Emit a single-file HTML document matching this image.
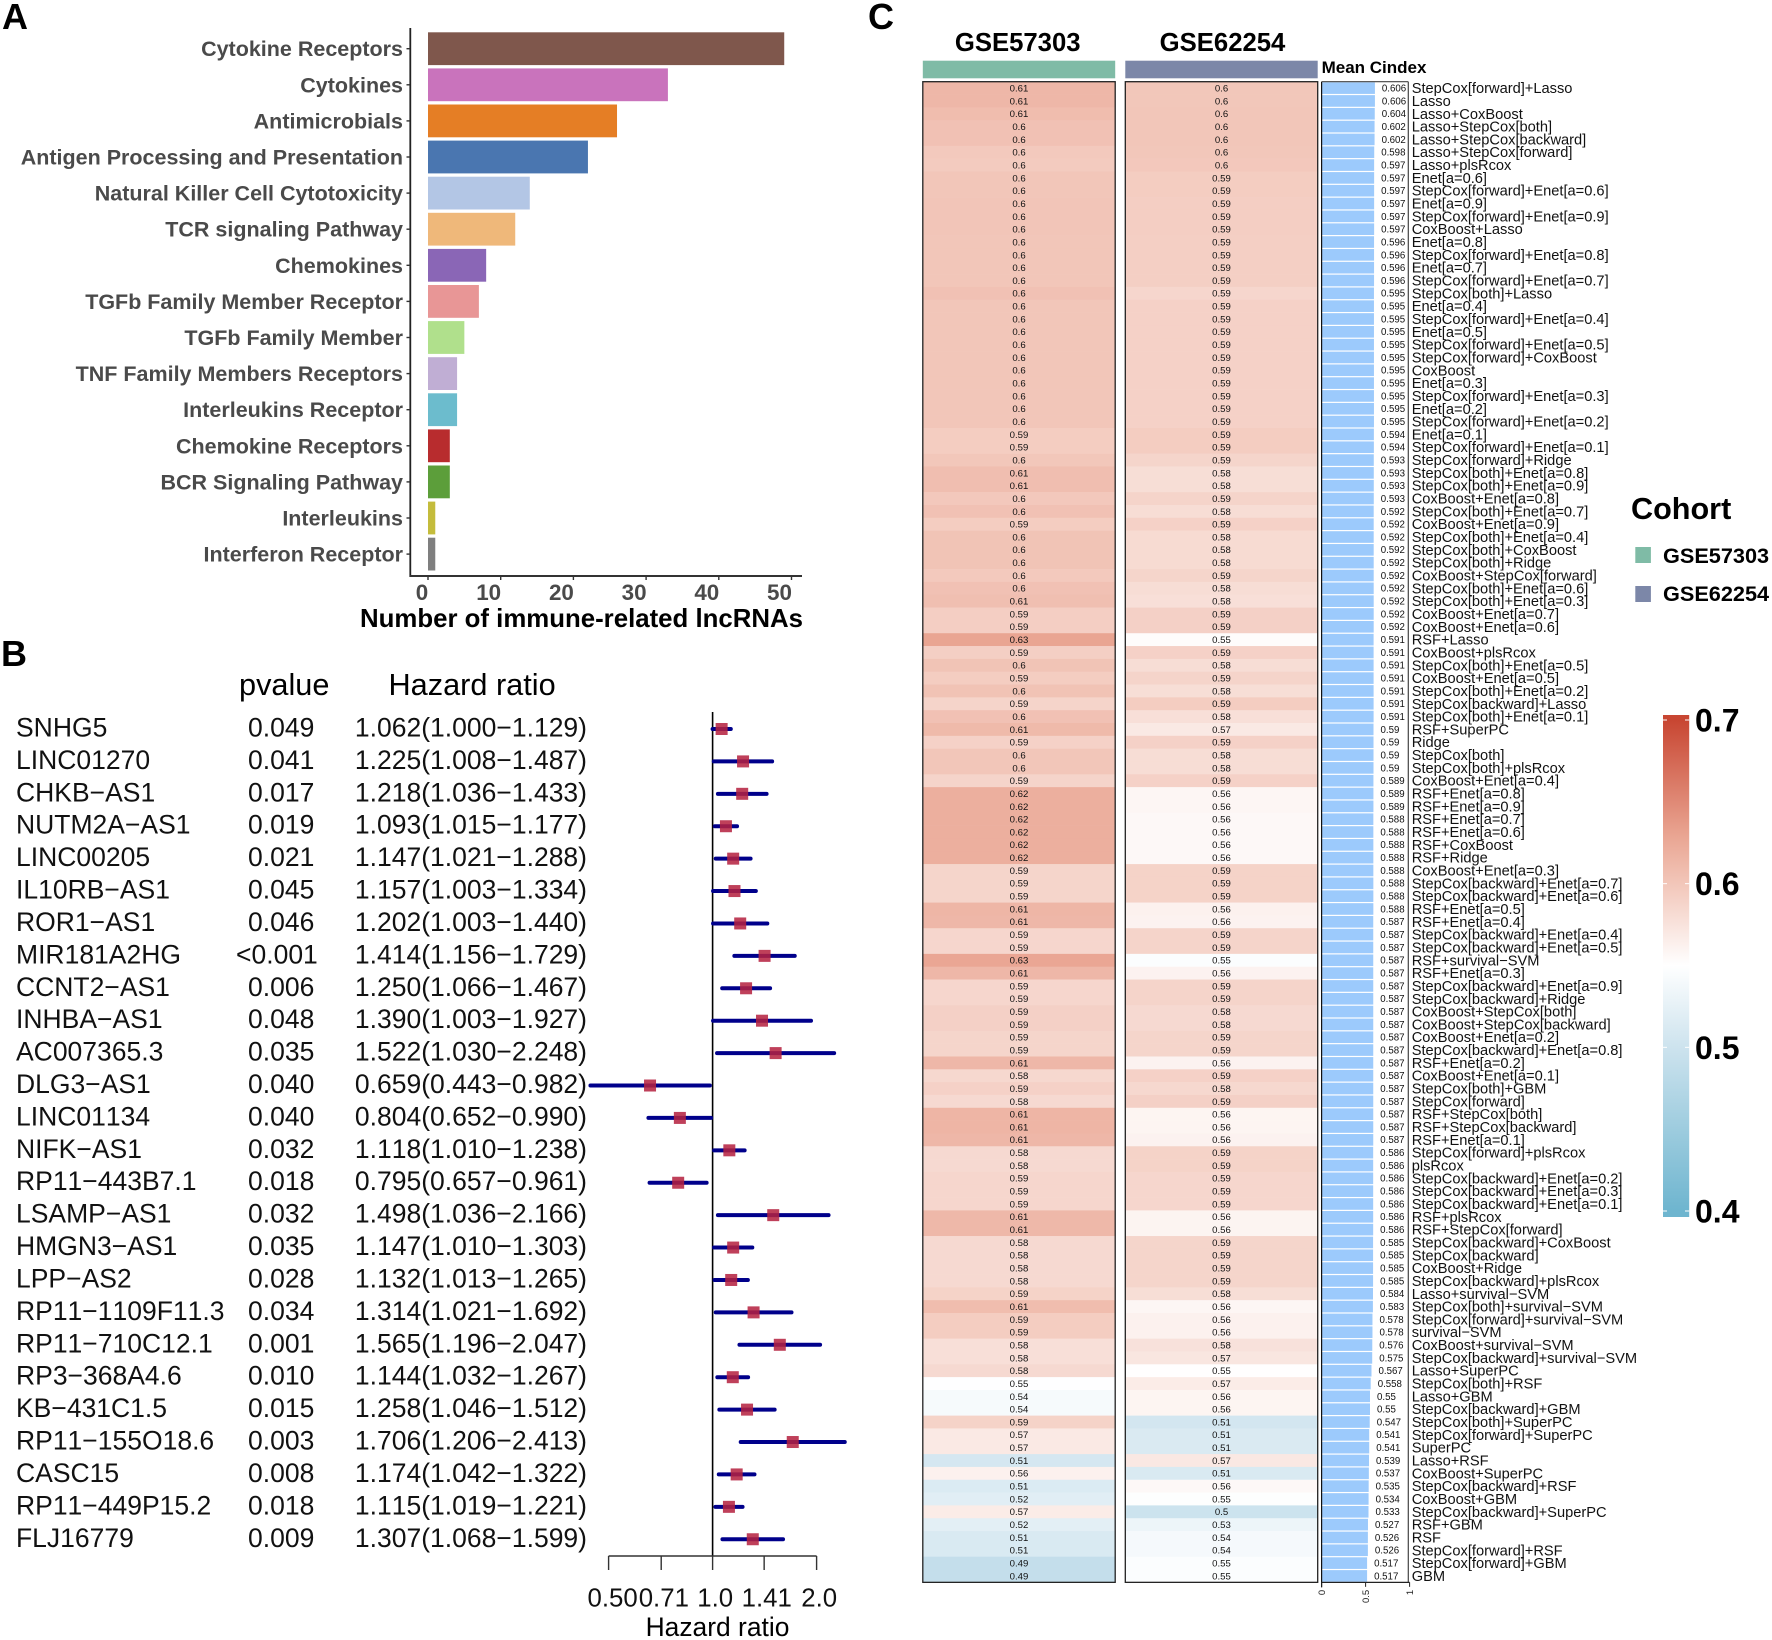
<!DOCTYPE html>
<html lang="en">
<head>
<meta charset="utf-8">
<title>Immune-related lncRNAs figure</title>
<style>
html,body{margin:0;padding:0;background:#fff;width:1772px;height:1640px;overflow:hidden}
svg{display:block;font-family:"Liberation Sans",Arial,sans-serif}
#panelB text{font-kerning:none}
</style>
</head>
<body>
<svg id="figure" xmlns="http://www.w3.org/2000/svg" width="1772" height="1640" viewBox="0 0 1772 1640">
  <rect x="0" y="0" width="1772" height="1640" fill="#fff"/>
  <text x="2" y="29" font-size="36" font-weight="700">A</text>
  <text x="1" y="666" font-size="36" font-weight="700">B</text>
  <text x="868" y="29" font-size="36" font-weight="700">C</text>

  <g id="panelA">
    <line x1="410.3" y1="28" x2="410.3" y2="577" stroke="#222" stroke-width="1.8"/>
    <line x1="410" y1="576" x2="802" y2="576" stroke="#333" stroke-width="2"/>
    <text x="581.5" y="627" text-anchor="middle" font-size="25.8" font-weight="700">Number of immune-related lncRNAs</text>
  </g>

  <g id="panelB">
    <text x="239" y="695" font-size="30.7">pvalue</text>
    <text x="388.5" y="695" font-size="30.7">Hazard ratio</text>
    <text x="717.5" y="1636" text-anchor="middle" font-size="26.4">Hazard ratio</text>
  </g>

  <g id="panelC">
    <text x="1017.7" y="51" text-anchor="middle" font-size="25.7" font-weight="700">GSE57303</text>
    <text x="1222.5" y="51" text-anchor="middle" font-size="25.7" font-weight="700">GSE62254</text>
    <rect x="922.8" y="60.7" width="192.4" height="17.6" fill="#7fbba6"/>
    <rect x="1125.3" y="60.7" width="192.4" height="17.6" fill="#7c87a8"/>
    <text x="1321.6" y="73" font-size="17" font-weight="700">Mean Cindex</text>
  </g>

  <g id="cohortLegend">
    <text x="1631" y="519" font-size="30.6" font-weight="700">Cohort</text>
    <rect x="1635.3" y="547" width="15.6" height="16" fill="#7fbba6"/>
    <text x="1663" y="563" font-size="21.7" font-weight="700">GSE57303</text>
    <rect x="1635.3" y="586" width="15.6" height="16" fill="#7c87a8"/>
    <text x="1663" y="601" font-size="21.7" font-weight="700">GSE62254</text>
  </g>

  <g id="colorLegend">
    <defs>
      <linearGradient id="cindexGradient" gradientUnits="userSpaceOnUse" x1="0" x2="0" y1="720" y2="1211"></linearGradient>
    </defs>
    <rect x="1663" y="715" width="26.2" height="502" fill="url(#cindexGradient)"/>
  </g>
</svg>

<script>
/* ---------- Panel A data ---------- */
const categories = ["Cytokine Receptors","Cytokines","Antimicrobials","Antigen Processing and Presentation","Natural Killer Cell Cytotoxicity","TCR signaling Pathway","Chemokines","TGFb Family Member Receptor","TGFb Family Member","TNF Family Members Receptors","Interleukins Receptor","Chemokine Receptors","BCR Signaling Pathway","Interleukins","Interferon Receptor"];
const lncCounts = [49,33,26,22,14,12,8,7,5,4,4,3,3,1,1];
const categoryColors = ["#7f574c","#c973bc","#e57e25","#4a76b0","#b3c6e5","#efb87a","#8a66b6","#e89696","#b0e08c","#c0aed4","#6cbccd","#b82c2e","#5c9e3a","#c4bc3c","#7f7f7f"];
const countTicks = [0,10,20,30,40,50];

/* ---------- Panel B data ---------- */
const genes = ["SNHG5","LINC01270","CHKB\u2212AS1","NUTM2A\u2212AS1","LINC00205","IL10RB\u2212AS1","ROR1\u2212AS1","MIR181A2HG","CCNT2\u2212AS1","INHBA\u2212AS1","AC007365.3","DLG3\u2212AS1","LINC01134","NIFK\u2212AS1","RP11\u2212443B7.1","LSAMP\u2212AS1","HMGN3\u2212AS1","LPP\u2212AS2","RP11\u22121109F11.3","RP11\u2212710C12.1","RP3\u2212368A4.6","KB\u2212431C1.5","RP11\u2212155O18.6","CASC15","RP11\u2212449P15.2","FLJ16779"];
const pvalues = ["0.049","0.041","0.017","0.019","0.021","0.045","0.046","<0.001","0.006","0.048","0.035","0.040","0.040","0.032","0.018","0.032","0.035","0.028","0.034","0.001","0.010","0.015","0.003","0.008","0.018","0.009"];
const hazardRatio = [1.062,1.225,1.218,1.093,1.147,1.157,1.202,1.414,1.250,1.390,1.522,0.659,0.804,1.118,0.795,1.498,1.147,1.132,1.314,1.565,1.144,1.258,1.706,1.174,1.115,1.307];
const hazardLow = [1.000,1.008,1.036,1.015,1.021,1.003,1.003,1.156,1.066,1.003,1.030,0.443,0.652,1.010,0.657,1.036,1.010,1.013,1.021,1.196,1.032,1.046,1.206,1.042,1.019,1.068];
const hazardHigh = [1.129,1.487,1.433,1.177,1.288,1.334,1.440,1.729,1.467,1.927,2.248,0.982,0.990,1.238,0.961,2.166,1.303,1.265,1.692,2.047,1.267,1.512,2.413,1.322,1.221,1.599];
const hazardTicks = [0.5,0.71,1,1.41,2];
const hazardTickLabels = ["0.50","0.71","1.0","1.41","2.0"];

/* ---------- Panel C data ---------- */
const models = ["StepCox[forward]+Lasso","Lasso","Lasso+CoxBoost","Lasso+StepCox[both]","Lasso+StepCox[backward]","Lasso+StepCox[forward]","Lasso+plsRcox","Enet[a=0.6]","StepCox[forward]+Enet[a=0.6]","Enet[a=0.9]",
"StepCox[forward]+Enet[a=0.9]","CoxBoost+Lasso","Enet[a=0.8]","StepCox[forward]+Enet[a=0.8]","Enet[a=0.7]","StepCox[forward]+Enet[a=0.7]","StepCox[both]+Lasso","Enet[a=0.4]","StepCox[forward]+Enet[a=0.4]","Enet[a=0.5]",
"StepCox[forward]+Enet[a=0.5]","StepCox[forward]+CoxBoost","CoxBoost","Enet[a=0.3]","StepCox[forward]+Enet[a=0.3]","Enet[a=0.2]","StepCox[forward]+Enet[a=0.2]","Enet[a=0.1]","StepCox[forward]+Enet[a=0.1]","StepCox[forward]+Ridge",
"StepCox[both]+Enet[a=0.8]","StepCox[both]+Enet[a=0.9]","CoxBoost+Enet[a=0.8]","StepCox[both]+Enet[a=0.7]","CoxBoost+Enet[a=0.9]","StepCox[both]+Enet[a=0.4]","StepCox[both]+CoxBoost","StepCox[both]+Ridge","CoxBoost+StepCox[forward]","StepCox[both]+Enet[a=0.6]",
"StepCox[both]+Enet[a=0.3]","CoxBoost+Enet[a=0.7]","CoxBoost+Enet[a=0.6]","RSF+Lasso","CoxBoost+plsRcox","StepCox[both]+Enet[a=0.5]","CoxBoost+Enet[a=0.5]","StepCox[both]+Enet[a=0.2]","StepCox[backward]+Lasso","StepCox[both]+Enet[a=0.1]",
"RSF+SuperPC","Ridge","StepCox[both]","StepCox[both]+plsRcox","CoxBoost+Enet[a=0.4]","RSF+Enet[a=0.8]","RSF+Enet[a=0.9]","RSF+Enet[a=0.7]","RSF+Enet[a=0.6]","RSF+CoxBoost",
"RSF+Ridge","CoxBoost+Enet[a=0.3]","StepCox[backward]+Enet[a=0.7]","StepCox[backward]+Enet[a=0.6]","RSF+Enet[a=0.5]","RSF+Enet[a=0.4]","StepCox[backward]+Enet[a=0.4]","StepCox[backward]+Enet[a=0.5]","RSF+survival\u2212SVM","RSF+Enet[a=0.3]",
"StepCox[backward]+Enet[a=0.9]","StepCox[backward]+Ridge","CoxBoost+StepCox[both]","CoxBoost+StepCox[backward]","CoxBoost+Enet[a=0.2]","StepCox[backward]+Enet[a=0.8]","RSF+Enet[a=0.2]","CoxBoost+Enet[a=0.1]","StepCox[both]+GBM","StepCox[forward]",
"RSF+StepCox[both]","RSF+StepCox[backward]","RSF+Enet[a=0.1]","StepCox[forward]+plsRcox","plsRcox","StepCox[backward]+Enet[a=0.2]","StepCox[backward]+Enet[a=0.3]","StepCox[backward]+Enet[a=0.1]","RSF+plsRcox","RSF+StepCox[forward]",
"StepCox[backward]+CoxBoost","StepCox[backward]","CoxBoost+Ridge","StepCox[backward]+plsRcox","Lasso+survival\u2212SVM","StepCox[both]+survival\u2212SVM","StepCox[forward]+survival\u2212SVM","survival\u2212SVM","CoxBoost+survival\u2212SVM","StepCox[backward]+survival\u2212SVM",
"Lasso+SuperPC","StepCox[both]+RSF","Lasso+GBM","StepCox[backward]+GBM","StepCox[both]+SuperPC","StepCox[forward]+SuperPC","SuperPC","Lasso+RSF","CoxBoost+SuperPC","StepCox[backward]+RSF",
"CoxBoost+GBM","StepCox[backward]+SuperPC","RSF+GBM","RSF","StepCox[forward]+RSF","StepCox[forward]+GBM","GBM"];
const meanCindex = [0.606,0.606,0.604,0.602,0.602,0.598,0.597,0.597,0.597,0.597,
0.597,0.597,0.596,0.596,0.596,0.596,0.595,0.595,0.595,0.595,
0.595,0.595,0.595,0.595,0.595,0.595,0.595,0.594,0.594,0.593,
0.593,0.593,0.593,0.592,0.592,0.592,0.592,0.592,0.592,0.592,
0.592,0.592,0.592,0.591,0.591,0.591,0.591,0.591,0.591,0.591,
0.59,0.59,0.59,0.59,0.589,0.589,0.589,0.588,0.588,0.588,
0.588,0.588,0.588,0.588,0.588,0.587,0.587,0.587,0.587,0.587,
0.587,0.587,0.587,0.587,0.587,0.587,0.587,0.587,0.587,0.587,
0.587,0.587,0.587,0.586,0.586,0.586,0.586,0.586,0.586,0.586,
0.585,0.585,0.585,0.585,0.584,0.583,0.578,0.578,0.576,0.575,
0.567,0.558,0.55,0.55,0.547,0.541,0.541,0.539,0.537,0.535,
0.534,0.533,0.527,0.526,0.526,0.517,0.517];
const gse57303 = [0.613,0.613,0.608,0.604,0.604,0.597,0.596,0.600,0.600,0.601,
0.601,0.601,0.600,0.600,0.600,0.600,0.604,0.600,0.600,0.600,
0.600,0.600,0.600,0.600,0.600,0.600,0.600,0.594,0.594,0.599,
0.607,0.607,0.598,0.604,0.594,0.602,0.602,0.602,0.597,0.604,
0.606,0.593,0.593,0.629,0.592,0.602,0.594,0.603,0.588,0.604,
0.611,0.590,0.600,0.600,0.588,0.620,0.620,0.620,0.620,0.620,
0.620,0.587,0.587,0.587,0.614,0.613,0.586,0.586,0.628,0.613,
0.586,0.586,0.591,0.591,0.587,0.587,0.613,0.584,0.590,0.583,
0.615,0.615,0.613,0.583,0.583,0.586,0.586,0.586,0.612,0.612,
0.583,0.583,0.583,0.583,0.589,0.608,0.594,0.594,0.578,0.578,
0.583,0.549,0.541,0.541,0.589,0.569,0.569,0.508,0.562,0.514,
0.520,0.567,0.522,0.512,0.512,0.490,0.490];
const gse62254 = [0.599,0.599,0.600,0.600,0.600,0.599,0.598,0.594,0.594,0.593,
0.593,0.593,0.592,0.592,0.592,0.592,0.586,0.590,0.590,0.590,
0.590,0.590,0.590,0.590,0.590,0.590,0.590,0.594,0.594,0.587,
0.579,0.579,0.588,0.580,0.590,0.582,0.582,0.582,0.587,0.580,
0.578,0.591,0.591,0.553,0.590,0.580,0.588,0.579,0.594,0.578,
0.569,0.590,0.580,0.580,0.590,0.558,0.558,0.556,0.556,0.556,
0.556,0.589,0.589,0.589,0.562,0.561,0.588,0.588,0.546,0.561,
0.588,0.588,0.583,0.583,0.587,0.587,0.561,0.590,0.584,0.591,
0.559,0.559,0.561,0.589,0.589,0.586,0.586,0.586,0.560,0.560,
0.587,0.587,0.587,0.587,0.579,0.558,0.562,0.562,0.576,0.572,
0.551,0.567,0.559,0.559,0.506,0.513,0.513,0.570,0.512,0.556,
0.548,0.499,0.532,0.540,0.540,0.546,0.546];
const meanTicks = [0,0.5,1];
const meanTickLabels = ["0","0.5","1"];
const legendTicks = [0.7,0.6,0.5,0.4];
const legendTickLabels = ["0.7","0.6","0.5","0.4"];

/* ---------- helpers ---------- */
const SVG_NS = "http://www.w3.org/2000/svg";
function mk(tag, attrs, parent, text){
  const n = document.createElementNS(SVG_NS, tag);
  for (const k in attrs) n.setAttribute(k, attrs[k]);
  if (text !== undefined) n.textContent = text;
  parent.appendChild(n);
  return n;
}
const panelA = document.getElementById("panelA");
const panelB = document.getElementById("panelB");
const panelC = document.getElementById("panelC");
const colorLegend = document.getElementById("colorLegend");

/* ---------- Panel A ---------- */
const countX = v => 428 + v * 7.27;
const categoryY = i => 48.7 + i * 36.1;
categories.forEach((name, i) => {
  const bar = mk("rect", {x: countX(0), y: categoryY(i) - 16.4, width: countX(lncCounts[i]) - countX(0), height: 32.8, fill: categoryColors[i]}, panelA);
  
  
  const tick = mk("line", {x1: 406.5, x2: 410, y1: categoryY(i), y2: categoryY(i), stroke: "#333", "stroke-width": 1.4}, panelA);
  
  
  const label = mk("text", {x: 403, y: categoryY(i) + 7.5, "text-anchor": "end", "font-size": 21.5, "font-weight": 700, fill: "#4a4a4a"}, panelA, name);
  
  
});
countTicks.forEach((v, i) => {
  const tick = mk("line", {x1: countX(v), x2: countX(v), y1: 576, y2: 580, stroke: "#333", "stroke-width": 1.4}, panelA);
  
  
  const label = mk("text", {x: countX(v) - (i === 0 ? 6 : 12), y: 600, "text-anchor": "middle", "font-size": 22.4, "font-weight": 700, fill: "#4a4a4a"}, panelA, String(v));
  
  
});

/* ---------- Panel B ---------- */
const hazardX = v => 712.6 + Math.log2(v) * 104;
const geneY = i => 729 + i * 32.41;
const refLine = mk("line", {x1: hazardX(1), x2: hazardX(1), y1: 712, y2: 1556, stroke: "#000", "stroke-width": 1.6}, panelB);


genes.forEach((g, i) => {
  const name = mk("text", {x: 16, y: geneY(i) + 7.5, "font-size": 26.5, fill: "#111"}, panelB, g);
  
  
  const pv = mk("text", {x: pvalues[i][0] === "<" ? 236 : 248, y: geneY(i) + 7.5, "font-size": 26.5, fill: "#111"}, panelB, pvalues[i]);
  
  
  const hrText = hazardRatio[i].toFixed(3) + "(" + hazardLow[i].toFixed(3) + "\u2212" + hazardHigh[i].toFixed(3) + ")";
  const hr = mk("text", {x: 587, y: geneY(i) + 7.5, "text-anchor": "end", "font-size": 26.5, fill: "#111"}, panelB, hrText);
  
  
  const ci = mk("line", {x1: hazardX(hazardLow[i]), x2: hazardX(hazardHigh[i]), y1: geneY(i), y2: geneY(i), stroke: "#00008b", "stroke-width": 4, "stroke-linecap": "round"}, panelB);
  
  
  const box = mk("rect", {x: hazardX(hazardRatio[i]) - 6, y: geneY(i) - 6, width: 12, height: 12, fill: "#b5213f", "fill-opacity": 0.86}, panelB);
  
  
});
const hazardAxis = mk("line", {x1: hazardX(hazardTicks[0]), x2: hazardX(hazardTicks[4]), y1: 1556, y2: 1556, stroke: "#333", "stroke-width": 1.4}, panelB);


hazardTicks.forEach((v, i) => {
  const tick = mk("line", {x1: hazardX(v), x2: hazardX(v), y1: 1556, y2: 1570, stroke: "#333", "stroke-width": 1.4}, panelB);
  
  
  const label = mk("text", {x: hazardX(v) + (i === 0 ? 4 : 2.6), y: 1606.5, "text-anchor": "middle", "font-size": 25.8, fill: "#111"}, panelB, hazardTickLabels[i]);
  
  
});

/* ---------- Panel C ---------- */
const colorStops = [[0.4,[110,181,207]],[0.5,[205,227,238]],[0.55,[255,255,255]],[0.6,[242,198,185]],[0.63,[233,164,145]],[0.7,[200,70,50]]];
function cindexColor(v){
  if (v <= colorStops[0][0]) return "rgb(" + colorStops[0][1].join(",") + ")";
  for (let i = 1; i < colorStops.length; i++){
    if (v <= colorStops[i][0]){
      const a = colorStops[i-1], b = colorStops[i], t = (v - a[0]) / (b[0] - a[0]);
      return "rgb(" + a[1].map((c, k) => Math.round(c + (b[1][k] - c) * t)).join(",") + ")";
    }
  }
  return "rgb(" + colorStops[colorStops.length-1][1].join(",") + ")";
}
const rowTop = 81.7, rowH = 12.826;
const rowY = i => rowTop + i * rowH;
const meanX = v => 1321.6 + v * 88;
const cols = [{x: 922.8, w: 192.4, values: gse57303}, {x: 1125.3, w: 192.4, values: gse62254}];
cols.forEach(col => {
  col.values.forEach((v, i) => {
    const cell = mk("rect", {x: col.x, y: rowY(i), width: col.w, height: rowH + 0.3, fill: cindexColor(v)}, panelC);
    
    
  });
  col.values.forEach((v, i) => {
    const t = mk("text", {x: col.x + col.w / 2, y: rowY(i) + rowH / 2 + 3.4, "text-anchor": "middle", "font-size": 9.6, fill: "#111"}, panelC, String(+v.toFixed(2)));
    
    
  });
  const frame = mk("rect", {x: col.x, y: rowTop, width: col.w, height: rowH * models.length, fill: "none", stroke: "#222", "stroke-width": 1.3}, panelC);
  
  
});
models.forEach((m, i) => {
  const bar = mk("rect", {x: meanX(0), y: rowY(i) + 0.6, width: meanX(meanCindex[i]) - meanX(0), height: rowH - 1.2, fill: "#9ccafc"}, panelC);
  
  
  const val = mk("text", {x: meanX(meanCindex[i]) + 7, y: rowY(i) + rowH / 2 + 3.4, "font-size": 9.7, fill: "#111"}, panelC, String(meanCindex[i]));
  
  
  const label = mk("text", {x: 1411.7, y: rowY(i) + rowH / 2 + 5, "font-size": 14.65, fill: "#111"}, panelC, m);
  
  
});
const meanFrame = mk("path", {d: "M1321.6 " + rowTop + "H1408.3M1408.3 " + rowTop + "V" + rowY(models.length), fill: "none", stroke: "#444", "stroke-width": 1.2}, panelC);


const meanLeft = mk("line", {x1: 1321.6, x2: 1321.6, y1: rowTop, y2: rowY(models.length) + 5, stroke: "#111", "stroke-width": 1.2}, panelC);


const meanAxis = mk("line", {x1: meanX(0), x2: meanX(1), y1: rowY(models.length), y2: rowY(models.length), stroke: "#222", "stroke-width": 1.3}, panelC);


meanTicks.forEach((v, i) => {
  const tick = mk("line", {x1: meanX(v), x2: meanX(v), y1: rowY(models.length), y2: rowY(models.length) + 4.5, stroke: "#222", "stroke-width": 1}, panelC);
  
  
  const ly = rowY(models.length) + 7.5;
  const lx = meanX(v) + 3.4;
  const label = mk("text", {x: lx, y: ly, "text-anchor": "end", "font-size": 9.5, fill: "#222", transform: "rotate(-90 " + lx + " " + ly + ")"}, panelC, meanTickLabels[i]);
  
  
});

/* ---------- Colour legend ---------- */
const gradient = document.getElementById("cindexGradient");
colorStops.slice().reverse().forEach(s => {
  mk("stop", {offset: ((0.7 - s[0]) / 0.3).toFixed(4), "stop-color": cindexColor(s[0])}, gradient);
});
const legendY = v => 720 + (0.7 - v) * (491 / 0.3);
legendTicks.forEach((v, i) => {
  const left = mk("line", {x1: 1663, x2: 1667, y1: legendY(v), y2: legendY(v), stroke: "#fff", "stroke-width": 1}, colorLegend);
  
  
  const right = mk("line", {x1: 1685, x2: 1689.2, y1: legendY(v), y2: legendY(v), stroke: "#fff", "stroke-width": 1}, colorLegend);
  
  
  const label = mk("text", {x: 1695, y: legendY(v) + 11.5, "font-size": 32, "font-weight": 700}, colorLegend, legendTickLabels[i]);
  
  
});
</script>
</body>
</html>
